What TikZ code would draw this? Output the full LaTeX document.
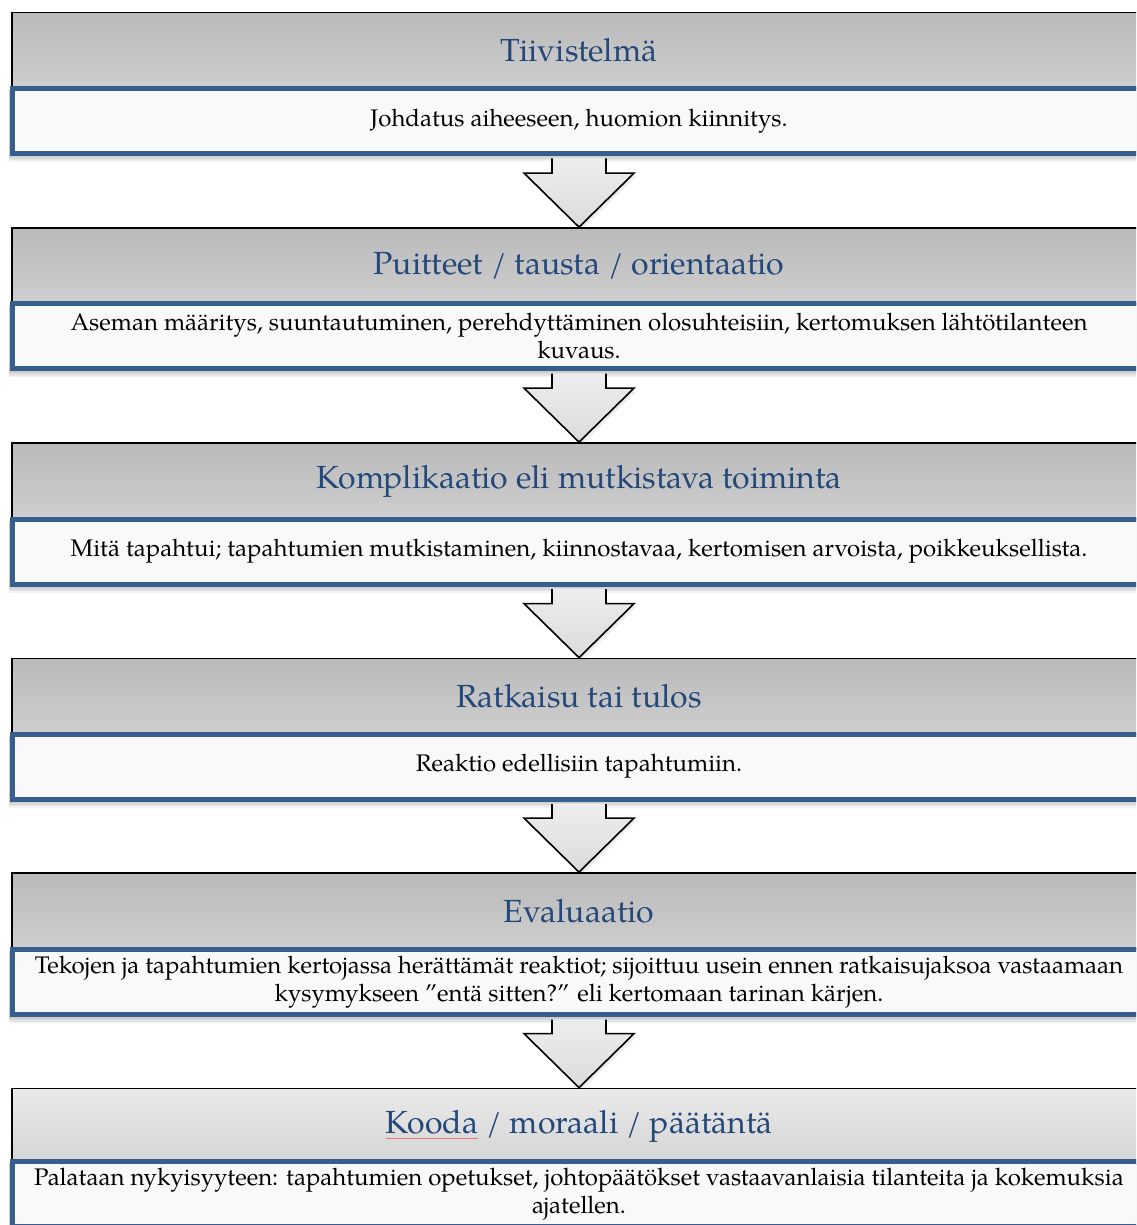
\documentclass[tikz,border=0pt]{standalone}
\usepackage{fontspec}
\setmainfont{TeX Gyre Pagella}
\usetikzlibrary{calc}
\definecolor{boxblue}{RGB}{56,94,141}
\definecolor{titleblue}{RGB}{36,72,122}
\definecolor{hdrtop}{RGB}{186,186,186}
\definecolor{hdrbot}{RGB}{206,206,206}
\definecolor{hdrtoplight}{RGB}{234,234,234}
\definecolor{hdrbotlight}{RGB}{212,212,212}
\definecolor{boxfill}{RGB}{249,249,249}
\definecolor{spellred}{RGB}{235,120,120}
\tikzset{
  header/.style={draw=black, line width=1.8pt, top color=hdrtop, bottom color=hdrbot,
    minimum width=1134pt, minimum height=76pt, inner sep=0pt,
    font=\fontsize{32}{38}\selectfont, text=titleblue},
  lightheader/.style={header, top color=hdrtoplight, bottom color=hdrbotlight},
  textbox/.style={draw=boxblue, line width=5pt, fill=boxfill,
    minimum width=1134pt, minimum height=65pt, inner sep=0pt, align=center,
    font=\fontsize{24}{27.5}\selectfont, text=black},
  softshade/.style={fill=black, opacity=0.05},
  blockarrow/.style={draw=black, line width=1.6pt, line join=miter,
    top color=black!7, bottom color=black!14}
}
% soft shadow under a description box (drawn before the box itself)
\newcommand{\boxshadow}[1]{%
  \foreach \d in {1.5,3,4.5,6}
    \fill[softshade] ($(#1.north west)+(-1,4)$) rectangle ($(#1.south east)+(\d,\d)$);}
% downward block arrow from the bottom of one box to the top of the next header
\newcommand{\flowarrow}[2]{%
  \foreach \d in {1.5,3}
    \fill[softshade] ($(#2.north)+(-55+\d,-54+\d)$) -- ($(#2.north)+(\d,\d)$) -- ($(#2.north)+(55+\d,-54+\d)$) -- cycle;
  \path[blockarrow]
    ($(#1.south)+(-27,2.5)$) -- ($(#2.north)+(-27,-54)$) -- ($(#2.north)+(-55,-54)$)
    -- (#2.north) -- ($(#2.north)+(55,-54)$) -- ($(#2.north)+(27,-54)$)
    -- ($(#1.south)+(27,2.5)$);}
\begin{document}
\begin{tikzpicture}[x=1pt, y=-1pt]
  \useasboundingbox (0,0) rectangle (1136,1225);
  \clip (0,0) rectangle (1136,1225);
  \fill[white] (0,0) rectangle (1136,1225);

  % section headers
  \node[header] (h1) at (579,50.5) {Tiivistelmä};
  \node[header] (h2) at (579,266) {Puitteet / tausta / orientaatio};
  \node[header] (h3) at (579,481) {Komplikaatio eli mutkistava toiminta};
  \node[header] (h4) at (579,696.5) {Ratkaisu tai tulos};
  \node[header] (h5) at (579,911) {Evaluaatio};
  \node[lightheader] (h6) at (579,1126.5) {%
    \setbox0\hbox{Kooda}\rlap{\textcolor{spellred}{\raisebox{-5pt}{\rule{\wd0}{0.7pt}}}}Kooda / moraali / päätäntä};

  % description box outlines, used for the shadows
  \path (579,121) node[textbox, draw=none, fill=none] (s1) {\phantom{X}}
        (579,336) node[textbox, draw=none, fill=none] (s2) {\phantom{X}}
        (579,551.5) node[textbox, draw=none, fill=none] (s3) {\phantom{X}}
        (579,766.5) node[textbox, draw=none, fill=none] (s4) {\phantom{X}}
        (579,982) node[textbox, draw=none, fill=none] (s5) {\phantom{X}}
        (579,1194) node[textbox, draw=none, fill=none] (s6) {\phantom{X}};
  \boxshadow{s1}\boxshadow{s2}\boxshadow{s3}\boxshadow{s4}\boxshadow{s5}\boxshadow{s6}

  % description boxes
  \node[textbox] (b1) at (579,121) {Johdatus aiheeseen, huomion kiinnitys.};
  \node[textbox] (b2) at (579,336) {Aseman määritys, suuntautuminen, perehdyttäminen olosuhteisiin, kertomuksen lähtötilanteen\\kuvaus.};
  \node[textbox] (b3) at (579,551.5) {Mitä tapahtui; tapahtumien mutkistaminen, kiinnostavaa, kertomisen arvoista, poikkeuksellista.};
  \node[textbox] (b4) at (579,766.5) {Reaktio edellisiin tapahtumiin.};
  \node[textbox] (b5) at (579,982) {Tekojen ja tapahtumien kertojassa herättämät reaktiot; sijoittuu usein ennen ratkaisujaksoa vastaamaan\\kysymykseen ”entä sitten?” eli kertomaan tarinan kärjen.};
  \node[textbox] (b6) at (579,1194) {Palataan nykyisyyteen: tapahtumien opetukset, johtopäätökset vastaavanlaisia tilanteita ja kokemuksia\\ajatellen.};

  % arrows between sections
  \flowarrow{b1}{h2}
  \flowarrow{b2}{h3}
  \flowarrow{b3}{h4}
  \flowarrow{b4}{h5}
  \flowarrow{b5}{h6}
\end{tikzpicture}
\end{document}
